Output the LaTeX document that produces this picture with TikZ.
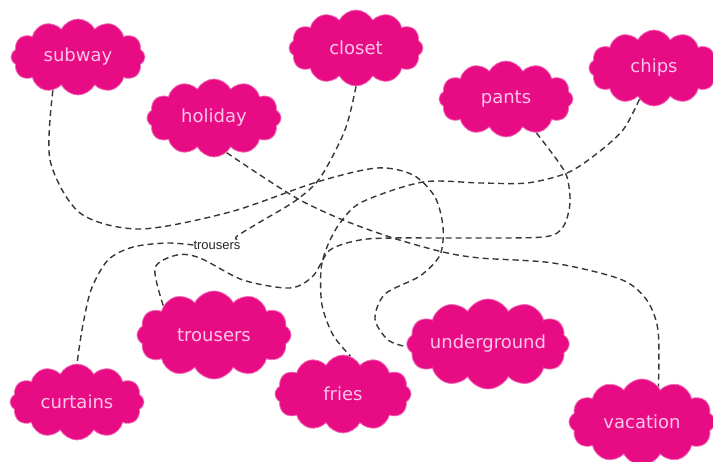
\documentclass[tikz,border=0pt]{standalone}
\usepackage{fontspec}
\setmainfont{DejaVu Sans}
\newfontfamily\notefont{Liberation Sans}
\usetikzlibrary{shapes.symbols}
\definecolor{cloudpink}{RGB}{232,12,132}
\definecolor{wordpink}{RGB}{252,198,232}
\definecolor{linegray}{RGB}{55,55,55}

\begin{document}
\begin{tikzpicture}[x=1pt,y=-1pt,
    word/.style={cloud, cloud puffs=12, cloud puff arc=125, cloud ignores aspect,
      fill=cloudpink, draw=cloudpink!60!white, line width=.8pt,
      text=wordpink, font=\fontsize{18}{18}\selectfont,
      minimum width=134pt, minimum height=76pt, inner sep=0pt},
    link/.style={draw=linegray, line width=1.4pt, dash pattern=on 6pt off 4pt}]
  \useasboundingbox (0,0) rectangle (713,462);

  % top row
  \node[word] (subway) at (78,57) {subway};
  \node[word] (closet) at (356,48) {closet};
  \node[word, minimum height=78pt] (holiday) at (214,118) {holiday};
  \node[word] (pants) at (506,99) {pants};
  \node[word, minimum width=130pt] (chips) at (654,68) {chips};

  % bottom row
  \node[word, minimum width=154pt, minimum height=88pt] (trousers) at (214,335) {trousers};
  \node[word] (curtains) at (77,402) {curtains};
  \node[word, minimum width=136pt, minimum height=78pt] (fries) at (343,394) {fries};
  \node[word, minimum width=156pt, minimum height=90pt] (underground) at (488,344) {underground};
  \node[word, minimum width=146pt, minimum height=86pt] (vacation) at (642,422) {vacation};

  \node[font=\notefont\fontsize{13}{13}\selectfont, text=black!85, inner sep=0pt] (note) at (217,245) {trousers};

  % connectors
  \draw[link] plot[smooth] coordinates {(subway.233) (50,160) (80,213) (140,229)
    (230,212) (317,182) (377,168) (413,175) (435,197) (443,227) (440,255)
    (420,276) (385,294) (375,319) (388,340) (underground.182)};
  \draw[link] plot[smooth] coordinates {(closet.south) (345,130) (320,178)
    (295,201) (260,222) (236,237) (note.north east)};
  \draw[link] plot[smooth] coordinates {(note.west) (167,243) (133,247) (108,260)
    (91,290) (82,330) (curtains.north)};
  \draw[link] plot[smooth] coordinates {(holiday.290) (260,175) (300,200) (343,220)
    (393,238) (443,252) (480,258) (553,263) (620,279) (646,299) (658,330)
    (vacation.65)};
  \draw[link] plot[smooth] coordinates {(pants.312) (557,160) (567,177) (570,203)
    (563,227) (543,237) (460,238) (393,238) (360,240) (330,250) (313,276)
    (290,288) (243,280) (200,258) (177,255) (155,268) (trousers.150)};
  \draw[link] plot[smooth] coordinates {(chips.245) (623,130) (595,155) (567,173)
    (527,183) (480,183) (423,182) (362,202) (340,223) (327,247) (321,270)
    (322,305) (333,335) (fries.79)};
\end{tikzpicture}
\end{document}
